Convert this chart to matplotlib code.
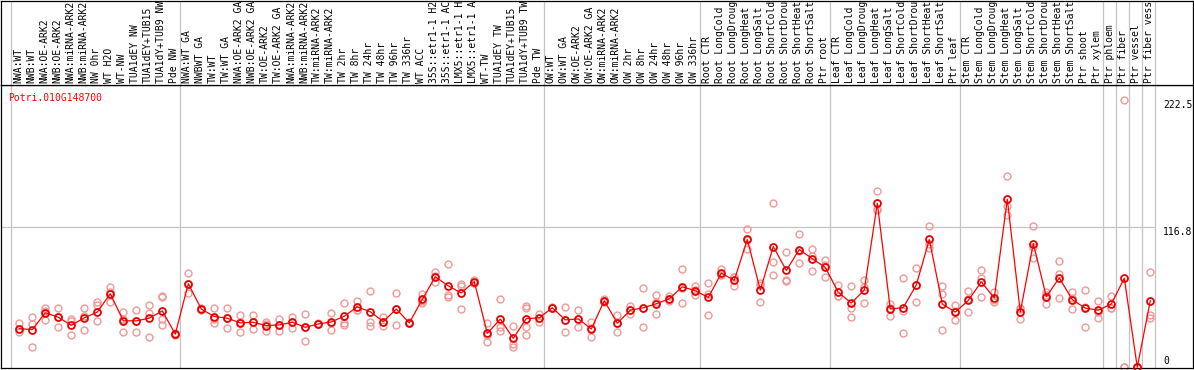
import matplotlib
matplotlib.use("Agg")
import matplotlib.pyplot as plt
import numpy as np

gene = "Potri.010G148700"

labels = [
    "NWA:WT", "NWB:WT", "NWA:OE-ARK2", "NWB:OE-ARK2", "NWA:miRNA-ARK2",
    "NWB:miRNA-ARK2", "NW 0hr", "WT H2O", "WT-NW", "TUA1dEY NW",
    "TUA1dEY+TUB15", "TUA1dY+TUB9 NW", "Pde NW",
    "NWA:WT GA", "NWBWT GA", "TW:WT", "TW:WT GA", "NWA:OE-ARK2 GA",
    "NWB:OE-ARK2 GA", "TW:OE-ARK2", "TW:OE-ARK2 GA", "NWA:miRNA-ARK2",
    "NWB:miRNA-ARK2", "TW:miRNA-ARK2", "TW:miRNA-ARK2", "TW 2hr", "TW 8hr",
    "TW 24hr", "TW 48hr", "TW 96hr", "TW 336hr", "WT ACC", "35S::etr1-1 H2",
    "35S::etr1-1 AC", "LMX5::etr1-1 H", "LMX5::etr1-1 A", "WT-TW",
    "TUA1dEY TW", "TUA1dEY+TUB15", "TUA1dY+TUB9 TW", "Pde TW",
    "OW:WT", "OW:WT GA", "OW:OE-ARK2", "OW:OE-ARK2 GA", "OW:miRNA-ARK2",
    "OW:miRNA-ARK2", "OW 2hr", "OW 8hr", "OW 24hr", "OW 48hr", "OW 96hr",
    "OW 336hr",
    "Root CTR", "Root LongCold", "Root LongDroug", "Root LongHeat",
    "Root LongSalt", "Root ShortCold", "Root ShortDrou", "Root ShortHeat",
    "Root ShortSalt", "Ptr root",
    "Leaf CTR", "Leaf LongCold", "Leaf LongDroug", "Leaf LongHeat",
    "Leaf LongSalt", "Leaf ShortCold", "Leaf ShortDrou", "Leaf ShortHeat",
    "Leaf ShortSalt", "Ptr leaf",
    "Stem CTR", "Stem LongCold", "Stem LongDroug", "Stem LongHeat",
    "Stem LongSalt", "Stem ShortCold", "Stem ShortDrou", "Stem ShortHeat",
    "Stem ShortSalt", "Ptr shoot", "Ptr xylem",
    "Ptr phloem", "Ptr fiber", "Ptr vessel", "Ptr fiber vess",
]

group_sizes = [13, 28, 12, 10, 10, 11, 1, 1, 1, 1]

means = [
    32.2, 31.4, 45.4, 41.7, 35.0, 41.2, 46.0, 61.3, 38.7, 38.7, 40.9, 47.0, 27.7,
    69.7, 48.5, 42.3, 40.9, 37.0, 37.5, 34.7, 35.3, 37.5, 33.3, 36.1, 37.8,
    42.6, 50.4, 46.2, 38.1, 48.5, 37.0, 56.6, 75.4, 67.8, 61.9, 71.4, 28.3,
    40.1, 24.1, 40.6, 41.2,
    49.6, 39.5, 40.3, 31.9, 55.5, 36.7, 47.6, 49.6, 52.9, 57.1, 67.0, 63.9,
    58.2, 78.4, 72.5, 106.5, 64.4, 100.6, 80.7, 98.1, 90.5, 83.2,
    62.5, 53.5, 64.4, 136.7, 48.5, 49.8, 68.6, 106.5, 52.7, 46.0,
    55.7, 71.2, 57.7, 140.1, 46.0, 103.1, 58.8, 74.5, 56.3, 49.3, 47.6,
    52.7, 74.2, 0.0, 55.5,
]

replicates = [
    [37.2, 29.7, 32.0], [41.7, 16.6, 35.9], [49.8, 39.2, 47.0], [49.3, 33.9, 42.0],
    [40.6, 38.9, 26.6], [49.3, 31.1, 43.0], [54.4, 52.1, 38.4], [66.6, 54.0, 63.0],
    [46.0, 29.2, 40.0], [47.9, 29.4, 38.7], [52.1, 45.1, 25.0],
    [59.7, 58.6, 40.1, 35.0], [27.0, 28.5, 27.7],
    [78.2, 61.9, 69.0], [48.5, 48.0, 49.0], [49.3, 37.2, 40.5], [49.3, 32.5, 41.0],
    [43.7, 29.2, 38.0], [43.7, 31.7, 37.5], [37.8, 30.5, 35.8], [40.6, 30.0, 35.3],
    [42.0, 32.5, 38.0], [44.5, 21.6, 33.8], [36.1, 36.5, 35.7], [45.4, 30.8, 37.2],
    [53.8, 36.5, 35.3], [55.5, 47.6, 48.1], [63.9, 37.8, 34.5], [42.0, 34.2, 38.1],
    [61.9, 35.0, 48.6], [37.0, 36.6, 37.4], [61.3, 53.2, 55.3], [79.3, 71.2, 75.7],
    [85.7, 60.5, 58.8], [69.2, 48.5, 68.0], [73.1, 70.5, 70.6], [36.7, 21.0, 27.2],
    [56.9, 33.3, 30.5], [34.5, 19.3, 16.6], [51.3, 49.0, 33.3, 26.6],
    [44.5, 37.8, 41.3],
    [49.6, 50.0, 49.2], [50.2, 29.2, 39.1], [47.6, 33.3, 40.0], [37.5, 25.5, 32.7],
    [56.5, 54.5, 55.5], [43.7, 29.7, 36.7], [50.7, 44.3, 47.8], [66.1, 33.6, 49.1],
    [60.5, 44.3, 54.0], [59.1, 55.5, 56.7], [81.5, 53.5, 66.0], [67.5, 59.9, 64.3],
    [70.6, 61.3, 43.4], [82.1, 76.5, 76.6], [75.0, 67.5, 75.0], [114.9, 98.9, 105.7],
    [70.3, 54.4, 68.5], [137.0, 87.4, 77.1], [96.4, 73.1, 71.7], [110.9, 86.6, 96.8],
    [98.3, 80.1, 93.1], [89.1, 75.4, 85.1],
    [68.9, 59.1, 59.5], [67.5, 49.8, 42.0], [72.5, 53.5, 67.2], [146.8, 132.2, 131.1],
    [52.9, 42.9, 49.7], [74.5, 46.5, 28.3], [82.9, 54.4, 68.5], [117.4, 99.7, 102.4],
    [67.5, 61.1, 31.1], [51.8, 39.5, 46.7],
    [63.9, 46.0, 57.2], [80.7, 58.6, 74.3], [62.5, 54.4, 56.2], [159.4, 134.2, 126.9],
    [49.6, 40.1, 48.3], [117.4, 91.3, 100.6], [63.0, 52.9, 60.5], [88.8, 77.9, 57.7],
    [62.8, 48.7, 57.4], [64.7, 33.3, 49.9], [55.5, 40.9, 46.4],
    [59.7, 49.0, 49.4], [222.5, 0.0, 0.0], [0.0, 0.0, 0.0], [79.6, 43.7, 40.9],
]

y_ticks = [222.5, 116.8, 0]

W, H = 1194, 370
mono = "DejaVu Sans Mono"
grid_col = "#c4c4c4"
rep_col = "#f09898"

fig = plt.figure(figsize=(W / 100, H / 100), dpi=100)
ax = fig.add_axes([1 / W, 2 / H, 1192 / W, 283 / H])
hd = fig.add_axes([1 / W, 285 / H, 1192 / W, 84.5 / H], sharex=ax)

x = np.arange(len(labels))
xlim = ((1 - 19.3) / 13, (1193 - 19.3) / 13)
ax.set_xlim(*xlim)
ax.set_ylim(-0.6, 235.2)
hd.set_ylim(0, 1)

seps = np.concatenate([[0], np.cumsum(group_sizes)]) - 0.62
for a in (ax, hd):
    for s in seps:
        a.axvline(s, color=grid_col, lw=0.9, zorder=0)
    a.set_xticks([])
    a.set_yticks([])
    for sp in a.spines.values():
        sp.set_linewidth(0.9)
        sp.set_color("black")

ax.hlines(y_ticks[1], xlim[0], seps[-1], color=grid_col, lw=0.9, zorder=0)

# replicates
for xi, reps in zip(x, replicates):
    ax.plot([xi] * len(reps), reps, "o", ms=5, mfc="none", mec=rep_col,
            mew=1.0, zorder=2, clip_on=False)

ax.plot(x, means, "-", color="red", lw=0.9, zorder=3, clip_on=False)
ax.plot(x, means, "o", ms=5, mfc="none", mec="#e80000", mew=1.3,
        zorder=4, clip_on=False)

for xi, lab in zip(x, labels):
    hd.text(xi - 0.1, 0.025, lab, rotation=90, ha="center", va="bottom",
            fontsize=7, family=mono, color="black")

ax.text(0.006, 0.972, gene, transform=ax.transAxes, ha="left", va="top",
        fontsize=7, family=mono, color="red")

tx = (1163 - 19.3) / 13
ax.text(tx, y_ticks[0], "222.5", ha="left", va="top", fontsize=7,
        family=mono)
ax.text(tx, y_ticks[1], "116.8", ha="left", va="top", fontsize=7,
        family=mono)
ax.text(tx, y_ticks[2] + 1, "0", ha="left", va="bottom", fontsize=7,
        family=mono)

fig.savefig("out.png", dpi=100)
